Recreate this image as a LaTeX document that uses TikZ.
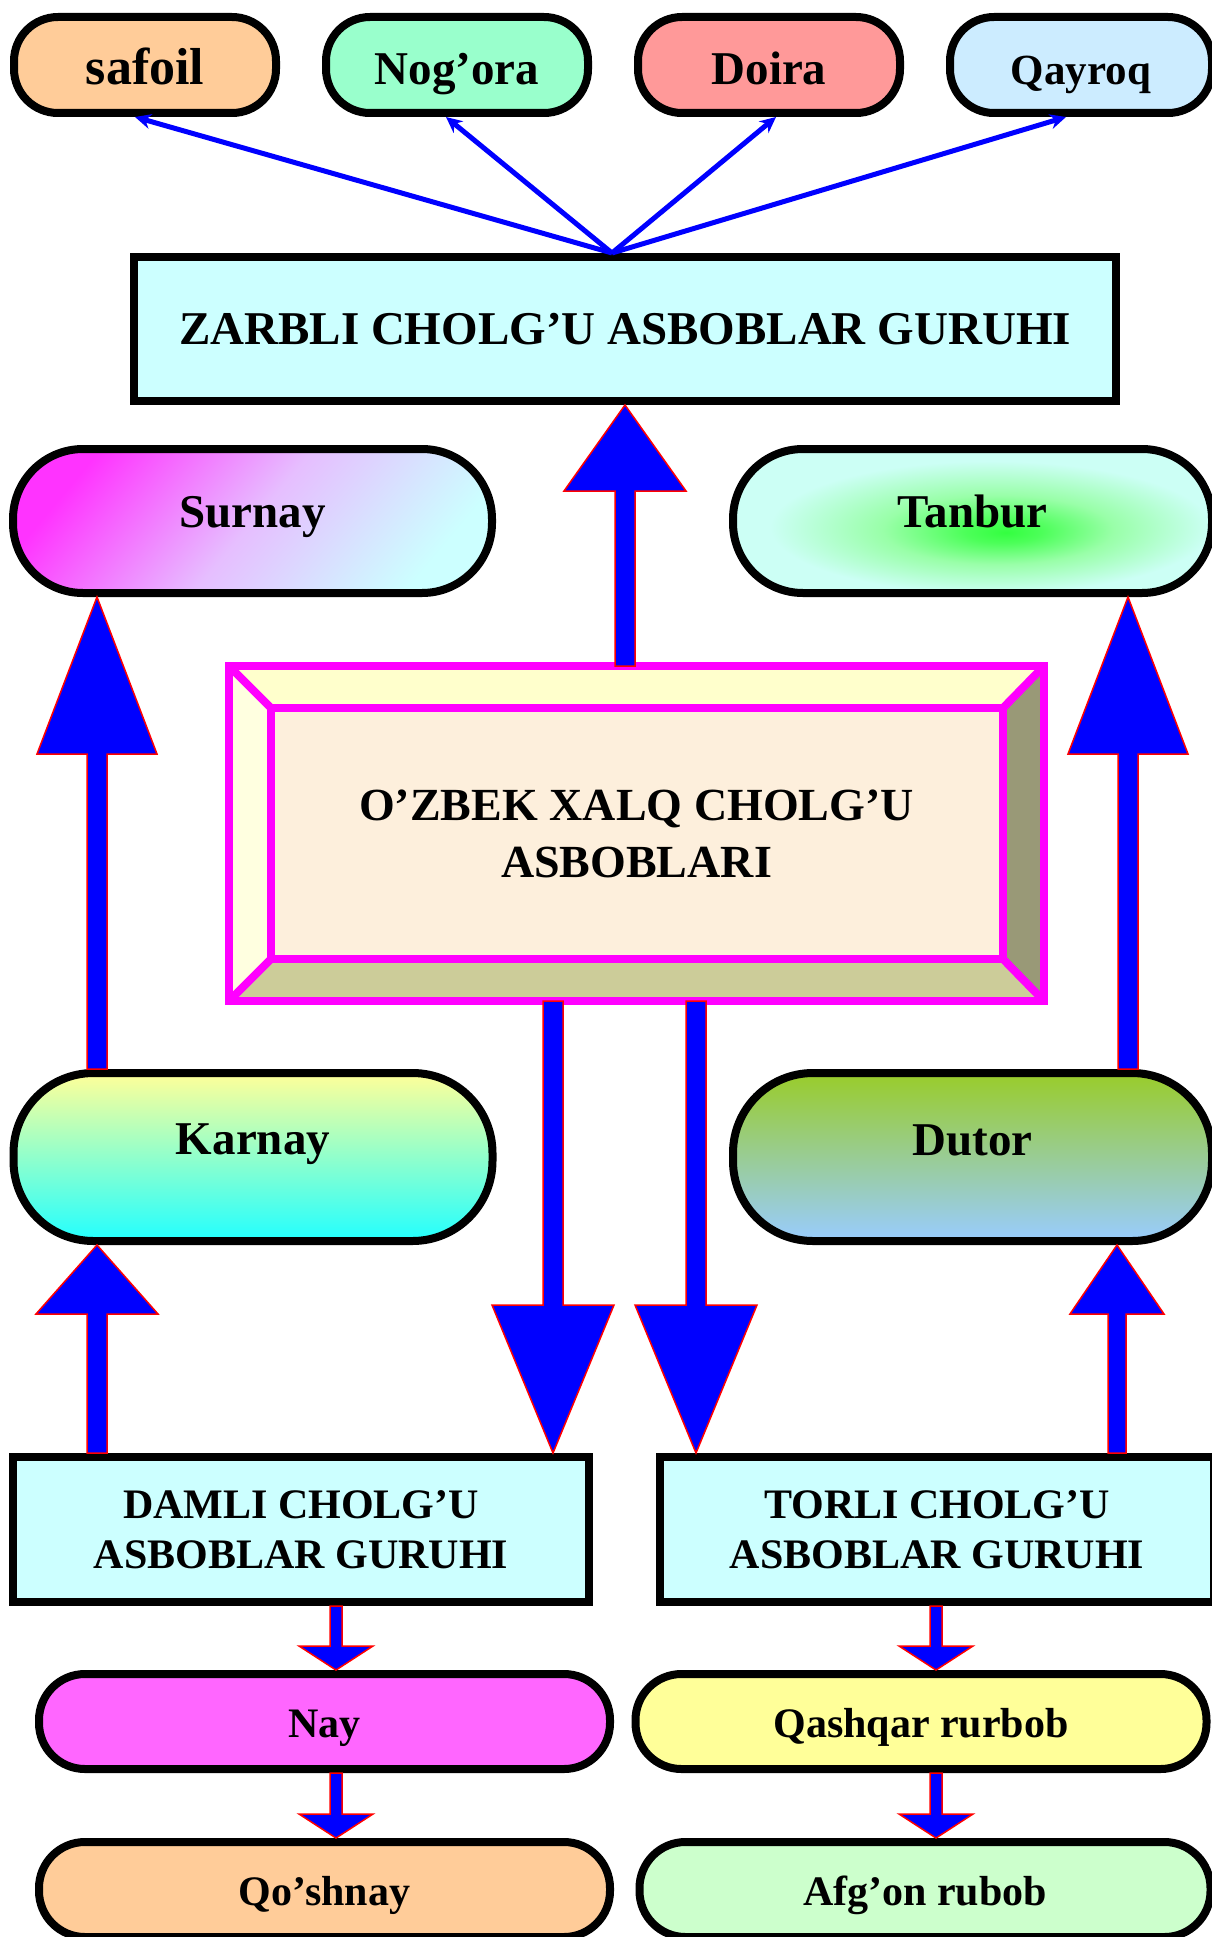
\documentclass[tikz,border=0pt]{standalone}
\usepackage{fontspec}
\setmainfont{Liberation Serif}
\usetikzlibrary{calc,arrows.meta,backgrounds}

\definecolor{boxcyan}{HTML}{CCFFFF}
\definecolor{safoilc}{HTML}{FFCC99}
\definecolor{nogorac}{HTML}{99FFCC}
\definecolor{doirac}{HTML}{FF9999}
\definecolor{qayroqc}{HTML}{CCECFF}
\definecolor{surnaytop}{HTML}{FF33FF}
\definecolor{surnaymid}{HTML}{E6BEFF}
\definecolor{surnaybot}{HTML}{CCFFFF}
\definecolor{karnaytop}{HTML}{FFFF99}
\definecolor{karnaybot}{HTML}{22FFFF}
\definecolor{dutortop}{HTML}{99CC2A}
\definecolor{dutorbot}{HTML}{99CCFF}
\definecolor{nayc}{HTML}{FF66FF}
\definecolor{qashqarc}{HTML}{FFFF99}
\definecolor{qoshnayc}{HTML}{FFCC99}
\definecolor{afgonc}{HTML}{CCFFCC}
\definecolor{framemag}{HTML}{FF00FF}
\definecolor{arrowblue}{HTML}{0000FF}
\definecolor{arrowred}{HTML}{FF0000}
\definecolor{bevtop}{HTML}{FFFFCC}
\definecolor{bevleft}{HTML}{FFFFE0}
\definecolor{bevright}{HTML}{999977}
\definecolor{bevbottom}{HTML}{CCCC99}
\definecolor{parchment}{HTML}{FDEFDC}

\pgfdeclareradialshading{tanburglow}{\pgfpoint{3.5bp}{-4bp}}{rgb(0bp)=(0.2,1,0.25); rgb(4bp)=(0.3,1,0.35); rgb(12bp)=(0.6,1,0.66); rgb(23bp)=(0.8,1,0.96); rgb(50bp)=(0.8,1,0.96)}

\tikzset{
  topcap/.style={draw, line width=8pt, rounded corners=44pt, minimum width=262pt, minimum height=96pt, inner sep=0pt,
    font=\bfseries\fontsize{47}{55}\selectfont, text height=40pt, text depth=0pt},
  groupbox/.style={draw, line width=8pt, fill=boxcyan, align=center, inner sep=0pt},
  midcap/.style={draw, line width=8pt, rounded corners=70pt, minimum width=479pt, minimum height=144pt, inner sep=0pt,
    font=\bfseries\fontsize{47}{55}\selectfont, text height=30pt, text depth=18pt},
  lowcap/.style={draw, line width=8pt, rounded corners=46pt, minimum width=571pt, minimum height=95pt, inner sep=0pt,
    font=\bfseries\fontsize{42}{50}\selectfont, text height=31pt, text depth=0pt},
  fatarrow/.style={fill=arrowblue, draw=arrowred, line width=1.5pt},
  thinarrow/.style={arrowblue, line width=5pt, -{Stealth[length=16pt,width=15pt]}},
}

% #1 tail, #2 tip, #3 half shaft, #4 half head, #5 head length
\newcommand{\fatarrow}[5]{%
  \coordinate (fa-h) at ($(#2)!#5!(#1)$);
  \filldraw[fatarrow] ($(#1)!#3!90:(#2)$) -- ($(fa-h)!#3!-90:(#1)$) -- ($(fa-h)!#4!-90:(#1)$) -- (#2)
    -- ($(fa-h)!#4!90:(#1)$) -- ($(fa-h)!#3!90:(#1)$) -- ($(#1)!#3!-90:(#2)$) -- cycle;}

\begin{document}
\begin{tikzpicture}[x=1pt,y=-1pt]
	\useasboundingbox (0,0) rectangle (1211,1937);
	
	% zarbli group
	\node[topcap, fill=safoilc, font=\bfseries\fontsize{52}{60}\selectfont] (safoil) at (145,65) {safoil};
	\node[topcap, fill=nogorac] (nogora) at (457,65) {Nog’ora};
	\node[topcap, fill=doirac] (doira) at (769,65) {Doira};
	\node[topcap, fill=qayroqc, font=\bfseries\fontsize{43}{50}\selectfont] (qayroq) at (1081,65) {Qayroq};
	\node[groupbox, minimum width=982pt, minimum height=144pt, font=\bfseries\fontsize{47}{55}\selectfont] (zarbli) at (625,329) {ZARBLI CHOLG’U ASBOBLAR GURUHI};
	
	\node[midcap, top color=surnaytop, bottom color=surnaybot, middle color=surnaymid, shading angle=50] (surnay) at (252.5,521) {Surnay};
	\node[midcap, shade, shading=tanburglow] (tanbur) at (972.5,521) {Tanbur};
	
	% main box with bevel
	\node[draw=framemag, line width=8pt, outer sep=0pt, minimum width=815pt, minimum height=335pt, align=center,
	  font=\bfseries\fontsize{46}{57}\selectfont] (ozbek) at (636.5,833.5) {O’ZBEK XALQ CHOLG’U\\ASBOBLARI};
	\coordinate (o1) at (ozbek.north west);
	\coordinate (o2) at (ozbek.north east);
	\coordinate (o3) at (ozbek.south east);
	\coordinate (o4) at (ozbek.south west);
	\coordinate (i1) at ($(o1)+(42,42)$);
	\coordinate (i2) at ($(o2)+(-41,42)$);
	\coordinate (i3) at ($(o3)+(-41,-42)$);
	\coordinate (i4) at ($(o4)+(42,-42)$);
	\begin{scope}[on background layer]
		\fill[bevtop] (o1) -- (o2) -- (i2) -- (i1) -- cycle;
		\fill[bevleft] (o1) -- (i1) -- (i4) -- (o4) -- cycle;
		\fill[bevright] (o2) -- (o3) -- (i3) -- (i2) -- cycle;
		\fill[bevbottom] (o4) -- (i4) -- (i3) -- (o3) -- cycle;
		\fill[parchment] (i1) rectangle (i3);
	\end{scope}
	\draw[framemag, line width=8pt] (i1) rectangle (i3);
	\draw[framemag, line width=8pt] (o1) -- (i1) (o2) -- (i2) (o3) -- (i3) (o4) -- (i4);
	
	\node[midcap, minimum height=168pt, rounded corners=80pt, top color=karnaytop, bottom color=karnaybot, text height=30pt, text depth=36pt] (karnay) at (253,1157) {Karnay};
	\node[midcap, minimum height=168pt, rounded corners=80pt, top color=dutortop, bottom color=dutorbot, text height=30pt, text depth=34pt] (dutor) at (972.5,1157) {Dutor};
	
	\node[groupbox, minimum width=576pt, minimum height=145pt, font=\bfseries\fontsize{42}{50}\selectfont] (damli) at (301,1529.5) {DAMLI CHOLG’U\\ASBOBLAR GURUHI};
	\node[groupbox, minimum width=554pt, minimum height=145pt, font=\bfseries\fontsize{42}{50}\selectfont] (torli) at (937,1529.5) {TORLI CHOLG’U\\ASBOBLAR GURUHI};
	
	\node[lowcap, fill=nayc] (nay) at (324.5,1721.5) {Nay};
	\node[lowcap, fill=qashqarc] (qashqar) at (921,1721.5) {Qashqar rurbob};
	\node[lowcap, fill=qoshnayc] (qoshnay) at (324.5,1889.5) {Qo’shnay};
	\node[lowcap, fill=afgonc] (afgon) at (925,1889.5) {Afg’on rubob};
	
	% thin arrows to the percussion
	\coordinate (zt) at ([xshift=-13pt]zarbli.north);
	\draw[thinarrow] (zt) -- ([xshift=-10pt]safoil.south);
	\draw[thinarrow] (zt) -- ([xshift=-11pt]nogora.south);
	\draw[thinarrow] (zt) -- ([xshift=7pt]doira.south);
	\draw[thinarrow] (zt) -- ([xshift=-15pt]qayroq.south);
	
	% big arrows
	\coordinate (zup) at (ozbek.north -| zarbli.south);
	\fatarrow{zup}{zarbli.south}{10pt}{61pt}{86pt}
	\coordinate (kn) at ([xshift=-156pt]karnay.north);
	\coordinate (ss) at (kn |- surnay.south);
	\fatarrow{kn}{ss}{10pt}{60pt}{157pt}
	\coordinate (dn) at ([xshift=155.5pt]dutor.north);
	\coordinate (ts) at (dn |- tanbur.south);
	\fatarrow{dn}{ts}{10pt}{60pt}{157pt}
	\coordinate (od1) at ([xshift=-83.5pt]ozbek.south);
	\coordinate (dm) at (od1 |- damli.north);
	\fatarrow{od1}{dm}{10pt}{61pt}{148pt}
	\coordinate (od2) at ([xshift=59.5pt]ozbek.south);
	\coordinate (tm) at (od2 |- torli.north);
	\fatarrow{od2}{tm}{10pt}{61pt}{148pt}
	\coordinate (dk) at (damli.north -| kn);
	\coordinate (ks) at (kn |- karnay.south);
	\fatarrow{dk}{ks}{10pt}{61pt}{69pt}
	\coordinate (td) at ([xshift=180pt]torli.north);
	\coordinate (ds) at (td |- dutor.south);
	\fatarrow{td}{ds}{9pt}{47pt}{69pt}
	
	% small arrows
	\coordinate (dn1) at ([xshift=35pt]damli.south);
	\coordinate (nn) at (dn1 |- nay.north);
	\fatarrow{dn1}{nn}{6pt}{37pt}{24pt}
	\coordinate (ns) at (dn1 |- nay.south);
	\coordinate (qn) at (dn1 |- qoshnay.north);
	\fatarrow{ns}{qn}{6pt}{37pt}{24pt}
	\coordinate (tn1) at ([xshift=-1pt]torli.south);
	\coordinate (qqn) at (tn1 |- qashqar.north);
	\fatarrow{tn1}{qqn}{6pt}{37pt}{24pt}
	\coordinate (qqs) at (tn1 |- qashqar.south);
	\coordinate (an) at (tn1 |- afgon.north);
	\fatarrow{qqs}{an}{6pt}{37pt}{24pt}
	
\end{tikzpicture}
\end{document}
